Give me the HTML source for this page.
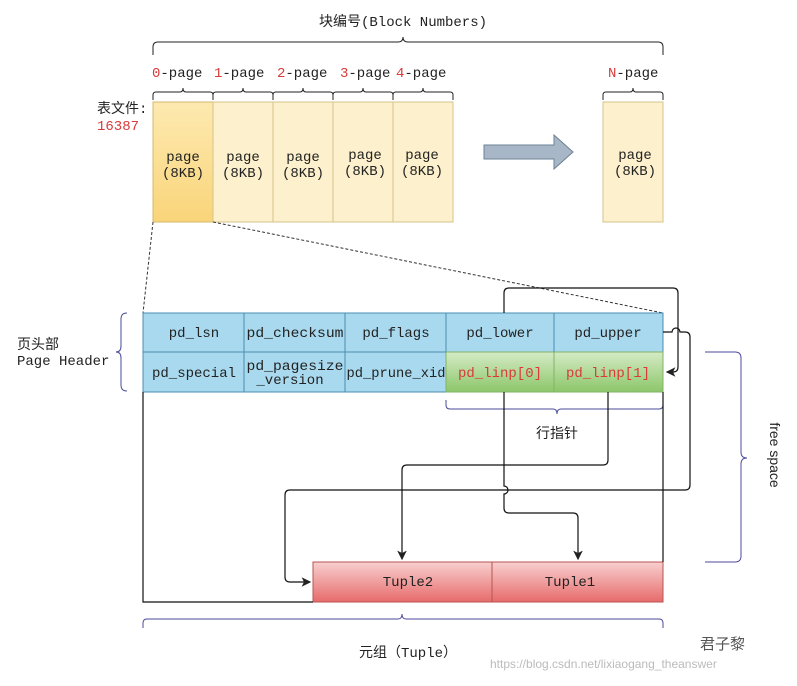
<!DOCTYPE html>
<html><head><meta charset="utf-8"><style>
body{margin:0;background:#fff;width:797px;height:681px;overflow:hidden}
svg text{font-family:"Liberation Mono","Noto Sans CJK SC",monospace;font-size:14px;fill:#222}
.r{fill:#d93a3a}
</style></head><body>
<svg width="797" height="681" viewBox="0 0 797 681">
<defs>
<linearGradient id="g0" x1="0" y1="0" x2="0" y2="1"><stop offset="0" stop-color="#fde9b0"/><stop offset="1" stop-color="#f9d57a"/></linearGradient>
<linearGradient id="gg" x1="0" y1="0" x2="0" y2="1"><stop offset="0" stop-color="#d5ebc5"/><stop offset="1" stop-color="#8cc66a"/></linearGradient>
<linearGradient id="gr" x1="0" y1="0" x2="0" y2="1"><stop offset="0" stop-color="#f8cfcf"/><stop offset="1" stop-color="#e76b6b"/></linearGradient>
<marker id="a" markerWidth="8" markerHeight="8" refX="7" refY="4" orient="auto"><path d="M0,0 L8,4 L0,8 L2,4z" fill="#222"/></marker>
</defs>
<text x="403" y="26" text-anchor="middle">块编号(Block Numbers)</text>
<path d="M153,55 v-8 q0,-5 5,-5 h240 q5,0 5,-5 q0,5 5,5 h250 q5,0 5,5 v8" fill="none" stroke="#222"/>
<g>
<text x="152" y="77"><tspan class="r">0</tspan>-page</text>
<text x="214" y="77"><tspan class="r">1</tspan>-page</text>
<text x="277" y="77"><tspan class="r">2</tspan>-page</text>
<text x="340" y="77"><tspan class="r">3</tspan>-page</text>
<text x="396" y="77"><tspan class="r">4</tspan>-page</text>
<text x="608" y="77"><tspan class="r">N</tspan>-page</text>
</g>
<g fill="none" stroke="#222">
<path d="M153,100 v-5 q0,-3 3,-3 h24 q3,0 3,-4 q0,4 3,4 h24 q3,0 3,3 v5"/>
<path d="M213,100 v-5 q0,-3 3,-3 h24 q3,0 3,-4 q0,4 3,4 h24 q3,0 3,3 v5"/>
<path d="M273,100 v-5 q0,-3 3,-3 h24 q3,0 3,-4 q0,4 3,4 h24 q3,0 3,3 v5"/>
<path d="M333,100 v-5 q0,-3 3,-3 h24 q3,0 3,-4 q0,4 3,4 h24 q3,0 3,3 v5"/>
<path d="M393,100 v-5 q0,-3 3,-3 h24 q3,0 3,-4 q0,4 3,4 h24 q3,0 3,3 v5"/>
<path d="M603,100 v-5 q0,-3 3,-3 h24 q3,0 3,-4 q0,4 3,4 h24 q3,0 3,3 v5"/>
</g>
<text x="97" y="113">表文件:</text>
<text x="97" y="130" class="r">16387</text>
<rect x="153" y="102" width="60" height="120" fill="url(#g0)" stroke="#d6b86a"/>
<g fill="#fdf0cc" stroke="#d6c48a">
<rect x="213" y="102" width="60" height="120"/><rect x="273" y="102" width="60" height="120"/>
<rect x="333" y="102" width="60" height="120"/><rect x="393" y="102" width="60" height="120"/>
<rect x="603" y="102" width="60" height="120"/></g>
<g text-anchor="middle">
<text x="183" y="161">page</text><text x="183" y="177">(8KB)</text>
<text x="243" y="161">page</text><text x="243" y="177">(8KB)</text>
<text x="303" y="161">page</text><text x="303" y="177">(8KB)</text>
<text x="365" y="159">page</text><text x="365" y="175">(8KB)</text>
<text x="422" y="159">page</text><text x="422" y="175">(8KB)</text>
<text x="635" y="159">page</text><text x="635" y="175">(8KB)</text>
</g>
<path d="M484,145 h70 v-10 l19,17 l-19,17 v-10 h-70z" fill="#a7b7c7" stroke="#6d8094"/>
<g stroke="#333" stroke-dasharray="3,2" fill="none"><path d="M153,222 L143,313"/><path d="M213,222 L663,313"/></g>
<rect x="143" y="313" width="303" height="79" fill="#a9d9ee" stroke="#4a8db0"/>
<rect x="446" y="313" width="217" height="39" fill="#a9d9ee" stroke="#4a8db0"/>
<rect x="446" y="352" width="217" height="40" fill="url(#gg)" stroke="#82b366"/>
<g stroke="#4a8db0"><path d="M143,352 H446"/><path d="M244,313 V392 M345,313 V392 M554,313 V352"/></g>
<path d="M554,352 V392" stroke="#82b366"/>
<g text-anchor="middle">
<text x="194" y="337">pd_lsn</text><text x="295" y="337" textLength="97" lengthAdjust="spacingAndGlyphs">pd_checksum</text><text x="396" y="337">pd_flags</text>
<text x="500" y="337">pd_lower</text><text x="608" y="337">pd_upper</text>
<text x="194" y="377">pd_special</text><text x="295" y="370" textLength="97" lengthAdjust="spacingAndGlyphs">pd_pagesize</text><text x="290" y="384">_version</text>
<text x="396" y="377" textLength="99" lengthAdjust="spacingAndGlyphs">pd_prune_xid</text><text x="500" y="377" class="r">pd_linp[0]</text><text x="608" y="377" class="r">pd_linp[1]</text>
</g>
<text x="17" y="349">页头部</text><text x="17" y="365">Page Header</text>
<path d="M127,313 q-6,0 -6,6 v27 q0,6 -5,6 q5,0 5,6 v27 q0,6 6,6" fill="none" stroke="#4a4a9a"/>
<path d="M446,400 v5 q0,4 4,4 h103 q4,0 4,5 q0,-5 4,-5 h98 q4,0 4,-4 v-5" fill="none" stroke="#4a4a9a"/>
<text x="557" y="438" text-anchor="middle">行指针</text>
<path d="M705,352 h30 q6,0 6,6 v94 q0,6 6,6 q-6,0 -6,6 v92 q0,6 -6,6 h-30" fill="none" stroke="#4a4a9a"/>
<text x="770" y="455" transform="rotate(90 770 455)" text-anchor="middle" style="font-family:'Liberation Sans',sans-serif">free space</text>
<rect x="313" y="562" width="350" height="40" fill="url(#gr)" stroke="#b85450"/>
<path d="M492,562 V602" stroke="#b85450"/>
<text x="408" y="586" text-anchor="middle">Tuple2</text><text x="570" y="586" text-anchor="middle">Tuple1</text>
<g fill="none" stroke="#111" stroke-width="1.2">
<path d="M143,392 V602 H313"/><path d="M663,392 V562"/>
<path d="M504,313 V293 q0,-5 5,-5 H673 q5,0 5,5 V367 q0,5 -5,5 H667" marker-end="url(#a)"/>
<path d="M663,332 H672 a4,4 0 0 1 8,0 H685 q5,0 5,5 V485 q0,5 -5,5 H290 q-5,0 -5,5 V577 q0,5 5,5 H310" marker-end="url(#a)"/>
<path d="M504,392 V486 a4,4 0 0 1 0,8 V508 q0,5 5,5 H573 q5,0 5,5 V559" marker-end="url(#a)"/>
<path d="M608,392 V460 q0,5 -5,5 H407 q-5,0 -5,5 V559" marker-end="url(#a)"/>
</g>
<path d="M143,628 v-5 q0,-4 4,-4 h251 q4,0 4,-5 q0,5 4,5 h253 q4,0 4,4 v5" fill="none" stroke="#4a4a9a"/>
<text x="408" y="657" text-anchor="middle">元组（Tuple）</text>
<text x="700" y="649" style="font-family:'Liberation Sans','Noto Sans CJK SC',sans-serif;font-size:15px;fill:#555">君子黎</text>
<text x="490" y="668" style="font-family:'Liberation Sans',sans-serif;font-size:12px;fill:#bbb">https://blog.csdn.net/lixiaogang_theanswer</text>
</svg>
</body></html>
